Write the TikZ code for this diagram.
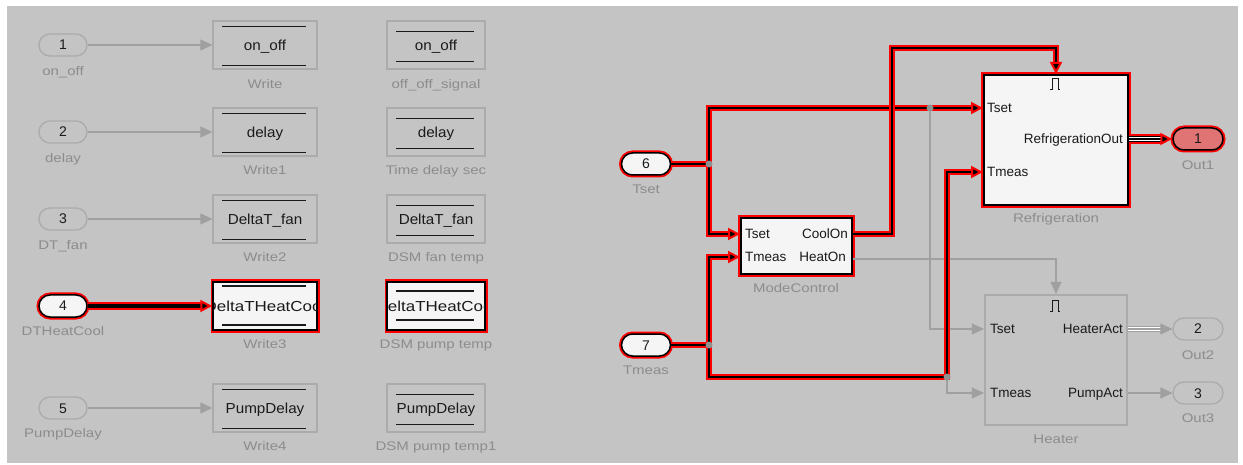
\documentclass[tikz,border=0pt]{standalone}
\usepackage{fontspec}
\setmainfont{Liberation Sans}
\newfontfamily\lblfont[FakeStretch=1.2]{Liberation Sans}
\newfontfamily\blkfont[FakeStretch=1.05]{Liberation Sans}
\newfontfamily\blkwide[FakeStretch=1.17]{Liberation Sans}
\usetikzlibrary{arrows.meta,calc}
\definecolor{bg}{HTML}{C4C4C4}
\definecolor{gline}{HTML}{A0A0A0}
\definecolor{gborder}{HTML}{ABABAB}
\definecolor{gtext}{HTML}{8C8C8C}
\definecolor{ink}{HTML}{1A1A1A}
\definecolor{selfill}{HTML}{F5F5F5}
\definecolor{outred}{HTML}{E07474}
\newcommand\hlarrow[1]{\draw[hlr,shorten >=10pt] #1; \draw[hlb,hltip] #1;}
\tikzset{
  lbl/.style={font=\lblfont\fontsize{12.5}{14}\selectfont, text=gtext, inner sep=0pt, text height=9pt, text depth=0pt},
  inport/.style={draw=gborder, line width=1.3pt, fill=bg, rounded corners=11pt, minimum width=48pt, minimum height=22pt, inner sep=0pt, font=\fontsize{14}{16}\selectfont, text=ink, text height=10pt, text depth=0pt},
  selport/.style={fill=selfill, draw=black, line width=1.5pt, preaction={draw=red, line width=5pt}},
  wblock/.style={draw=gborder, line width=1.3pt, fill=bg, minimum width=104pt, minimum height=48pt, inner sep=0pt, font=\blkfont\fontsize{14.5}{16}\selectfont, text=ink, text height=10.4pt, text depth=0pt},
  dblock/.style={wblock, minimum width=98pt},
  selblock/.style={fill=selfill, draw=black, line width=1.5pt, preaction={draw=red, line width=5pt}},
  cliptext/.style={font=\blkwide\fontsize{14.5}{16}\selectfont, text=ink, inner sep=0pt, text height=10.4pt, text depth=0pt},
  barline/.style={draw=ink, line width=1.5pt},
  sub/.style={draw=gborder, line width=2.2pt, fill=bg, inner sep=0pt},
  selsub/.style={fill=selfill, draw=black, line width=2pt, preaction={draw=red, line width=6pt}},
  plbl/.style={font=\fontsize{13.5}{15}\selectfont, text=ink, inner sep=0pt, text height=9.7pt, text depth=0pt},
  gconn/.style={draw=gline, line width=1.2pt, -{Triangle[length=12pt,width=11pt,fill=gline,color=gline]}},
  hlr/.style={draw=red, line width=6.5pt},
  hlb/.style={draw=black, line width=2pt},
  hltip/.style={-{Triangle[length=12pt,width=12pt,fill=black,color=red,line width=2pt]}},
  gdot/.style={circle, fill=gline!90!black, inner sep=0pt, minimum size=7pt},
  trig/.style={draw=ink, line width=1pt},
}
\begin{document}
\begin{tikzpicture}[x=1pt,y=-1pt]
\useasboundingbox (0,0) rectangle (1243,465);
\fill[white] (0,0) rectangle (1243,465);
\fill[bg] (7,6) rectangle (1238,463);

% ---------- left part ----------
\node[inport] (in1) at (63,45) {1};
\node[inport] (in2) at (63,132) {2};
\node[inport] (in3) at (63,219) {3};
\node[inport,selport] (in4) at (63,306) {4};
\node[inport] (in5) at (63,408) {5};
\node[lbl] (lin1) at (63,71) {on\_off};
\node[lbl] (lin2) at (63,158) {delay};
\node[lbl] (lin3) at (63,245) {DT\_fan};
\node[lbl] (lin4) at (63,331) {DTHeatCool};
\node[lbl] (lin5) at (63,433) {PumpDelay};

\node[wblock] (w0) at (265,45) {on\_off};
\node[wblock] (w1) at (265,132) {delay};
\node[wblock] (w2) at (265,219) {DeltaT\_fan};
\node[wblock,selblock] (w3) at (265,306) {};
\node[wblock] (w4) at (265,408) {PumpDelay};
\begin{scope}
  \clip ($(w3.north west)+(1,1)$) rectangle ($(w3.south east)+(-1,-1)$);
  \node[cliptext] (tw3) at (w3.center) {DeltaTHeatCool};
\end{scope}
\node[lbl] (lw0) at (265,84) {Write};
\node[lbl] (lw1) at (265,170) {Write1};
\node[lbl] (lw2) at (265,257) {Write2};
\node[lbl] (lw3) at (265,344) {Write3};
\node[lbl] (lw4) at (265,446) {Write4};

\node[dblock] (d0) at (436,45) {on\_off};
\node[dblock] (d1) at (436,132) {delay};
\node[dblock] (d2) at (436,219) {DeltaT\_fan};
\node[dblock,selblock] (d3) at (436,306) {};
\node[dblock] (d4) at (436,408) {PumpDelay};
\begin{scope}
  \clip ($(d3.north west)+(1,1)$) rectangle ($(d3.south east)+(-1,-1)$);
  \node[cliptext] (td3) at (d3.center) {DeltaTHeatCool};
\end{scope}
\node[lbl] (ld0) at (436,84) {off\_off\_signal};
\node[lbl] (ld1) at (436,170) {Time delay sec};
\node[lbl] (ld2) at (436,257) {DSM fan temp};
\node[lbl] (ld3) at (436,344) {DSM pump temp};
\node[lbl] (ld4) at (436,446) {DSM pump temp1};

\foreach \n in {w0,w1,w2,w4} {
  \draw[barline] ($(\n.north west)+(10,6)$) -- ($(\n.north east)+(-12,6)$);
  \draw[barline] ($(\n.south west)+(10,-4)$) -- ($(\n.south east)+(-12,-4)$);
}
\draw[barline] ($(w3.north west)+(10,5)$) -- ($(w3.north east)+(-12,5)$);
\draw[barline] ($(w3.south west)+(10,-6)$) -- ($(w3.south east)+(-12,-6)$);
\foreach \n in {d0,d1,d2,d4} {
  \draw[barline] ($(\n.north west)+(10,11)$) -- ($(\n.north east)+(-12,11)$);
  \draw[barline] ($(\n.south west)+(10,-8)$) -- ($(\n.south east)+(-12,-8)$);
}
\draw[barline] ($(d3.north west)+(10,10)$) -- ($(d3.north east)+(-12,10)$);
\draw[barline] ($(d3.south west)+(10,-11)$) -- ($(d3.south east)+(-12,-11)$);

\draw[gconn] (in1.east) -- (w0.west);
\draw[gconn] (in2.east) -- (w1.west);
\draw[gconn] (in3.east) -- (w2.west);
\draw[gconn] (in5.east) -- (w4.west);
\draw[draw=red, line width=8pt, shorten >=10pt] (in4.east) -- (w3.west);
\draw[draw=black, line width=3pt, hltip] (in4.east) -- (w3.west);

% ---------- right part ----------
\node[inport,selport,minimum width=49pt] (in6) at (646,164) {6};
\node[inport,selport,minimum width=49pt] (in7) at (646,345) {7};
\node[lbl] (lin6) at (646,189) {Tset};
\node[lbl] (lin7) at (646,370) {Tmeas};

\node[sub,selsub,minimum width=111pt,minimum height=56pt] (mode) at (796.5,246) {};
\node[sub,selsub,minimum width=144pt,minimum height=130pt] (refr) at (1056,140) {};
\node[sub,minimum width=142pt,minimum height=130pt] (heat) at (1056,360) {};
\node[lbl] (lmode) at (796,288) {ModeControl};
\node[lbl] (lrefr) at (1056,218) {Refrigeration};
\node[lbl] (lheat) at (1056,439) {Heater};

\node[inport,selport,fill=outred,minimum width=50pt] (out1) at (1198,139) {1};
\node[inport,minimum width=50pt] (out2) at (1198,329) {2};
\node[inport,minimum width=50pt] (out3) at (1198,393) {3};
\node[lbl] (lout1) at (1198,165) {Out1};
\node[lbl] (lout2) at (1198,355) {Out2};
\node[lbl] (lout3) at (1198,418) {Out3};

% ports
\coordinate (mTset) at (mode.west |- 0,234);
\coordinate (mTmeas) at (mode.west |- 0,257);
\coordinate (mCool) at (mode.east |- 0,234);
\coordinate (mHeat) at (mode.east |- 0,259);
\coordinate (rTset) at (refr.west |- 0,108);
\coordinate (rTmeas) at (refr.west |- 0,172);
\coordinate (rOut) at (refr.east |- 0,139);
\coordinate (hTset) at (heat.west |- 0,329);
\coordinate (hTmeas) at (heat.west |- 0,393);
\coordinate (hAct) at (heat.east |- 0,329);
\coordinate (hPump) at (heat.east |- 0,393);
% branch points / bends
\coordinate (b6) at (709,164);
\coordinate (b7) at (709,345);
\coordinate (jT) at (930,108);
\coordinate (j7) at (947,377);
\coordinate (c1) at (892,48);

% port labels
\node[plbl,anchor=west] (tmT) at ($(mTset)+(5,0)$) {Tset};
\node[plbl,anchor=west] (tmM) at ($(mTmeas)+(5,0)$) {Tmeas};
\node[plbl,anchor=east] (tmC) at ($(mCool)+(-5,0)$) {CoolOn};
\node[plbl,anchor=east] (tmH) at ($(mTmeas)+(106,0)$) {HeatOn};
\node[plbl,anchor=west] (trT) at ($(rTset)+(4,0)$) {Tset};
\node[plbl,anchor=west] (trM) at ($(rTmeas)+(4,0)$) {Tmeas};
\node[plbl,anchor=east] (trO) at ($(rOut)+(-6,0)$) {RefrigerationOut};
\node[plbl,anchor=west] (thT) at ($(hTset)+(6,0)$) {Tset};
\node[plbl,anchor=west] (thM) at ($(hTmeas)+(6,0)$) {Tmeas};
\node[plbl,anchor=east] (thA) at ($(hAct)+(-5,0)$) {HeaterAct};
\node[plbl,anchor=east] (thP) at ($(hPump)+(-5,0)$) {PumpAct};
% trigger symbols
\draw[trig] ($(refr.north)+(-6,16)$) -- ++(2,0) -- ++(0,-11) -- ++(6,0) -- ++(0,11) -- ++(2,0);
\draw[trig] ($(heat.north)+(-6,18)$) -- ++(2,0) -- ++(0,-11) -- ++(6,0) -- ++(0,11) -- ++(2,0);

% gray connectors
\draw[gconn] (mHeat) -| (heat.north);
\draw[gconn] (jT) |- (hTset);
\draw[gconn] (j7) |- (hTmeas);
\draw[gconn] (hPump) -- (out3.west);
\draw[gline,line width=6pt,shorten >=10pt] (hAct) -- (out2.west);
\draw[white,line width=3.4pt,shorten >=10pt] (hAct) -- (out2.west);
\draw[gconn] (hAct) -- (out2.west);

% highlighted connectors
\hlarrow{(in6.east) -- (b6) |- (rTset)}
\hlarrow{(b6) |- (mTset)}
\hlarrow{(in7.east) -- (b7) |- (mTmeas)}
\hlarrow{(b7) |- (j7) |- (rTmeas)}
\hlarrow{(mCool) -| (c1) -| (refr.north)}
\draw[red,line width=10pt,shorten >=10pt] (rOut) -- (out1.west);
\draw[black,line width=6pt,shorten >=10pt] (rOut) -- (out1.west);
\draw[white,line width=3.6pt,shorten >=10pt] (rOut) -- (out1.west);
\draw[black,line width=1.2pt,hltip] (rOut) -- (out1.west);

% junction dots
\node[gdot] (dot1) at (b6) {};
\node[gdot] (dot2) at (b7) {};
\node[gdot] (dot3) at (jT) {};
\node[gdot] (dot4) at (j7) {};
\end{tikzpicture}
\end{document}
